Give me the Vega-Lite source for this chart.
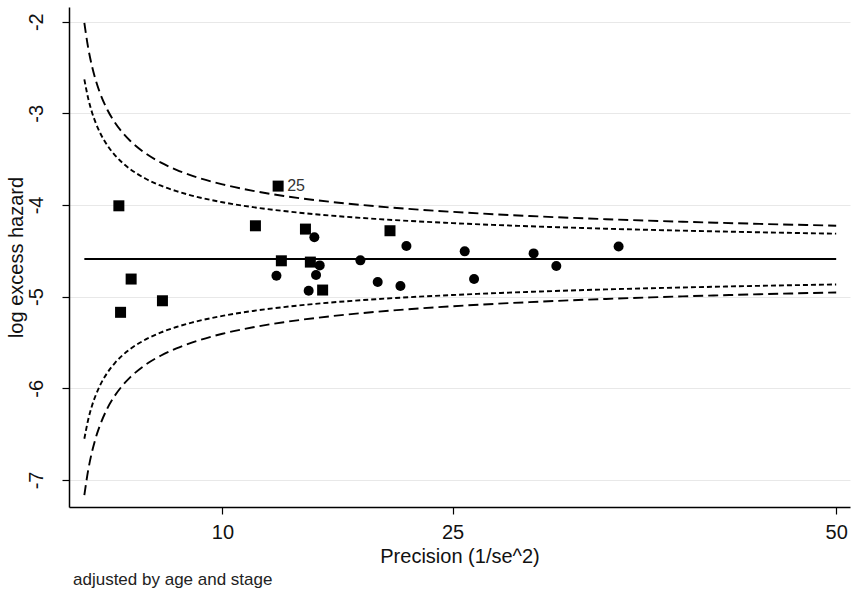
{
  "$schema": "https://vega.github.io/schema/vega-lite/v6.json",
  "width": 781,
  "height": 500,
  "autosize": {"type": "none"},
  "padding": {"left": 69, "top": 7, "right": 3, "bottom": 91},
  "background": "white",
  "config": {
    "font": "Liberation Sans",
    "view": {"stroke": null},
    "axis": {
      "domainColor": "#000",
      "domainWidth": 1.5,
      "tickColor": "#000",
      "tickWidth": 1.2,
      "tickSize": 7,
      "labelColor": "#111",
      "labelFontSize": 20,
      "titleColor": "#111",
      "titleFontSize": 20,
      "titleFontWeight": "normal"
    }
  },
  "title": {
    "text": "adjusted by age and stage",
    "orient": "bottom",
    "anchor": "start",
    "frame": "group",
    "fontSize": 17,
    "fontWeight": "normal",
    "color": "#222",
    "offset": 6,
    "dx": 4
  },
  "datasets": {
    "curves": [
      {"series": "u95", "p": 1, "v": -2.63},
      {"series": "u95", "p": 1.25, "v": -2.837},
      {"series": "u95", "p": 1.5, "v": -2.99},
      {"series": "u95", "p": 1.75, "v": -3.108},
      {"series": "u95", "p": 2, "v": -3.204},
      {"series": "u95", "p": 2.5, "v": -3.35},
      {"series": "u95", "p": 3, "v": -3.458},
      {"series": "u95", "p": 3.5, "v": -3.542},
      {"series": "u95", "p": 4, "v": -3.61},
      {"series": "u95", "p": 5, "v": -3.714},
      {"series": "u95", "p": 6, "v": -3.79},
      {"series": "u95", "p": 7, "v": -3.849},
      {"series": "u95", "p": 8, "v": -3.897},
      {"series": "u95", "p": 10, "v": -3.97},
      {"series": "u95", "p": 12, "v": -4.024},
      {"series": "u95", "p": 14, "v": -4.066},
      {"series": "u95", "p": 17, "v": -4.115},
      {"series": "u95", "p": 20, "v": -4.152},
      {"series": "u95", "p": 25, "v": -4.198},
      {"series": "u95", "p": 30, "v": -4.232},
      {"series": "u95", "p": 35, "v": -4.259},
      {"series": "u95", "p": 40, "v": -4.28},
      {"series": "u95", "p": 45, "v": -4.298},
      {"series": "u95", "p": 50, "v": -4.313},
      {"series": "l95", "p": 1, "v": -6.55},
      {"series": "l95", "p": 1.25, "v": -6.343},
      {"series": "l95", "p": 1.5, "v": -6.19},
      {"series": "l95", "p": 1.75, "v": -6.072},
      {"series": "l95", "p": 2, "v": -5.976},
      {"series": "l95", "p": 2.5, "v": -5.83},
      {"series": "l95", "p": 3, "v": -5.722},
      {"series": "l95", "p": 3.5, "v": -5.638},
      {"series": "l95", "p": 4, "v": -5.57},
      {"series": "l95", "p": 5, "v": -5.467},
      {"series": "l95", "p": 6, "v": -5.39},
      {"series": "l95", "p": 7, "v": -5.331},
      {"series": "l95", "p": 8, "v": -5.283},
      {"series": "l95", "p": 10, "v": -5.21},
      {"series": "l95", "p": 12, "v": -5.156},
      {"series": "l95", "p": 14, "v": -5.114},
      {"series": "l95", "p": 17, "v": -5.065},
      {"series": "l95", "p": 20, "v": -5.028},
      {"series": "l95", "p": 25, "v": -4.982},
      {"series": "l95", "p": 30, "v": -4.948},
      {"series": "l95", "p": 35, "v": -4.921},
      {"series": "l95", "p": 40, "v": -4.9},
      {"series": "l95", "p": 45, "v": -4.882},
      {"series": "l95", "p": 50, "v": -4.867},
      {"series": "u99", "p": 1, "v": -2.014},
      {"series": "u99", "p": 1.25, "v": -2.286},
      {"series": "u99", "p": 1.5, "v": -2.487},
      {"series": "u99", "p": 1.75, "v": -2.643},
      {"series": "u99", "p": 2, "v": -2.769},
      {"series": "u99", "p": 2.5, "v": -2.961},
      {"series": "u99", "p": 3, "v": -3.103},
      {"series": "u99", "p": 3.5, "v": -3.213},
      {"series": "u99", "p": 4, "v": -3.302},
      {"series": "u99", "p": 5, "v": -3.438},
      {"series": "u99", "p": 6, "v": -3.538},
      {"series": "u99", "p": 7, "v": -3.616},
      {"series": "u99", "p": 8, "v": -3.679},
      {"series": "u99", "p": 10, "v": -3.775},
      {"series": "u99", "p": 12, "v": -3.846},
      {"series": "u99", "p": 14, "v": -3.902},
      {"series": "u99", "p": 17, "v": -3.965},
      {"series": "u99", "p": 20, "v": -4.014},
      {"series": "u99", "p": 25, "v": -4.075},
      {"series": "u99", "p": 30, "v": -4.12},
      {"series": "u99", "p": 35, "v": -4.155},
      {"series": "u99", "p": 40, "v": -4.183},
      {"series": "u99", "p": 45, "v": -4.206},
      {"series": "u99", "p": 50, "v": -4.226},
      {"series": "l99", "p": 1, "v": -7.166},
      {"series": "l99", "p": 1.25, "v": -6.894},
      {"series": "l99", "p": 1.5, "v": -6.693},
      {"series": "l99", "p": 1.75, "v": -6.537},
      {"series": "l99", "p": 2, "v": -6.412},
      {"series": "l99", "p": 2.5, "v": -6.219},
      {"series": "l99", "p": 3, "v": -6.077},
      {"series": "l99", "p": 3.5, "v": -5.967},
      {"series": "l99", "p": 4, "v": -5.878},
      {"series": "l99", "p": 5, "v": -5.742},
      {"series": "l99", "p": 6, "v": -5.642},
      {"series": "l99", "p": 7, "v": -5.564},
      {"series": "l99", "p": 8, "v": -5.501},
      {"series": "l99", "p": 10, "v": -5.405},
      {"series": "l99", "p": 12, "v": -5.334},
      {"series": "l99", "p": 14, "v": -5.279},
      {"series": "l99", "p": 17, "v": -5.215},
      {"series": "l99", "p": 20, "v": -5.166},
      {"series": "l99", "p": 25, "v": -5.105},
      {"series": "l99", "p": 30, "v": -5.06},
      {"series": "l99", "p": 35, "v": -5.025},
      {"series": "l99", "p": 40, "v": -4.997},
      {"series": "l99", "p": 45, "v": -4.974},
      {"series": "l99", "p": 50, "v": -4.954},
      {"series": "mean", "p": 1, "v": -4.59},
      {"series": "mean", "p": 50, "v": -4.59}
    ],
    "points": [
      {"shape": "square", "p": 3.25, "v": -4.009},
      {"shape": "square", "p": 3.36, "v": -5.171},
      {"shape": "square", "p": 4.05, "v": -4.808},
      {"shape": "square", "p": 6.09, "v": -5.045},
      {"shape": "square", "p": 12.15, "v": -4.227},
      {"shape": "square", "p": 13.63, "v": -3.794, "label": "25"},
      {"shape": "square", "p": 13.84, "v": -4.609},
      {"shape": "square", "p": 15.41, "v": -4.263},
      {"shape": "square", "p": 15.73, "v": -4.623},
      {"shape": "square", "p": 16.53, "v": -4.928},
      {"shape": "square", "p": 20.92, "v": -4.281},
      {"shape": "circle", "p": 13.52, "v": -4.772},
      {"shape": "circle", "p": 15.99, "v": -4.353},
      {"shape": "circle", "p": 15.62, "v": -4.936},
      {"shape": "circle", "p": 16.1, "v": -4.764},
      {"shape": "circle", "p": 16.34, "v": -4.659},
      {"shape": "circle", "p": 18.99, "v": -4.604},
      {"shape": "circle", "p": 20.12, "v": -4.841},
      {"shape": "circle", "p": 21.6, "v": -4.884},
      {"shape": "circle", "p": 21.99, "v": -4.448},
      {"shape": "circle", "p": 25.79, "v": -4.506},
      {"shape": "circle", "p": 26.4, "v": -4.808},
      {"shape": "circle", "p": 30.28, "v": -4.528},
      {"shape": "circle", "p": 31.76, "v": -4.666},
      {"shape": "circle", "p": 35.82, "v": -4.452}
    ]
  },
  "encoding": {
    "x": {
      "field": "p",
      "type": "quantitative",
      "scale": {"domain": [0, 50.9], "nice": false, "zero": false},
      "axis": {
        "values": [10, 25, 50],
        "grid": false,
        "title": "Precision (1/se^2)",
        "labelPadding": 8,
        "titlePadding": 4
      }
    },
    "y": {
      "field": "v",
      "type": "quantitative",
      "scale": {"domain": [-7.295, -1.84], "nice": false, "zero": false},
      "axis": {
        "values": [-7, -6, -5, -4, -3, -2],
        "labelExpr": "datum.value + ''",
        "grid": true,
        "gridColor": "#e8e8e8",
        "gridWidth": 1,
        "labelAngle": -90,
        "labelAlign": "center",
        "labelBaseline": "top",
        "labelPadding": 36,
        "title": "log excess hazard",
        "titlePadding": 0
      }
    }
  },
  "layer": [
    {
      "data": {"name": "curves"},
      "transform": [{"filter": "datum.series == 'u95' || datum.series == 'l95'"}],
      "mark": {"type": "line", "color": "#000", "strokeWidth": 1.9, "strokeDash": [5, 3], "interpolate": "monotone"},
      "encoding": {"detail": {"field": "series"}}
    },
    {
      "data": {"name": "curves"},
      "transform": [{"filter": "datum.series == 'u99' || datum.series == 'l99'"}],
      "mark": {"type": "line", "color": "#000", "strokeWidth": 1.9, "strokeDash": [10, 5], "interpolate": "monotone"},
      "encoding": {"detail": {"field": "series"}}
    },
    {
      "data": {"name": "curves"},
      "transform": [{"filter": "datum.series == 'mean'"}],
      "mark": {"type": "line", "color": "#000", "strokeWidth": 1.9},
      "encoding": {}
    },
    {
      "data": {"name": "points"},
      "transform": [{"filter": "datum.shape == 'square'"}],
      "mark": {"type": "square", "color": "#000", "filled": true, "opacity": 1, "size": 121}
    },
    {
      "data": {"name": "points"},
      "transform": [{"filter": "datum.shape == 'circle'"}],
      "mark": {"type": "circle", "color": "#000", "filled": true, "opacity": 1, "size": 100}
    },
    {
      "data": {"name": "points"},
      "transform": [{"filter": "datum.label"}],
      "mark": {"type": "text", "align": "left", "baseline": "middle", "dx": 9, "fontSize": 16, "color": "#333"},
      "encoding": {"text": {"field": "label"}}
    }
  ]
}
